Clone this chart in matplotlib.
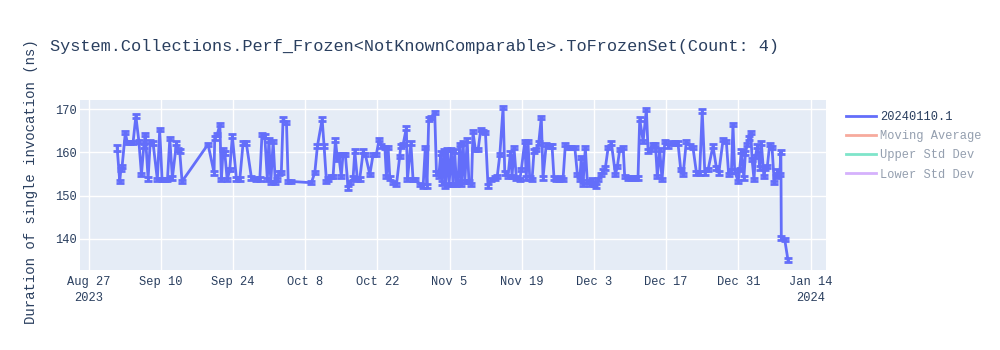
import matplotlib
matplotlib.use("Agg")
import matplotlib.pyplot as plt
from matplotlib.lines import Line2D
import pandas as pd

plt.rcParams['font.family'] = ['Liberation Mono', 'DejaVu Sans Mono']

title = "System.Collections.Perf_Frozen<NotKnownComparable>.ToFrozenSet(Count: 4)"
y_label = "Duration of single invocation (ns)"
series_name = "20240110.1"
hidden_series = ["Moving Average", "Upper Std Dev", "Lower Std Dev"]

run_times = [
    "2023-09-01 13:00", "2023-09-02 01:00", "2023-09-02 06:00", "2023-09-02 12:00",
    "2023-09-03 03:00", "2023-09-03 12:00", "2023-09-04 00:00", "2023-09-04 15:00",
    "2023-09-05 04:00", "2023-09-05 18:00", "2023-09-06 06:00", "2023-09-06 17:00",
    "2023-09-07 00:00", "2023-09-07 13:00", "2023-09-07 23:00", "2023-09-08 12:00",
    "2023-09-09 08:00", "2023-09-09 19:00", "2023-09-10 06:00", "2023-09-10 21:00",
    "2023-09-11 07:00", "2023-09-11 18:00", "2023-09-12 06:00", "2023-09-13 01:00",
    "2023-09-13 09:00", "2023-09-13 16:00", "2023-09-14 03:00", "2023-09-19 04:00",
    "2023-09-20 08:00", "2023-09-20 11:00", "2023-09-20 23:00", "2023-09-21 11:00",
    "2023-09-21 18:00", "2023-09-22 02:00", "2023-09-22 10:00", "2023-09-22 21:00",
    "2023-09-23 09:00", "2023-09-23 21:00", "2023-09-24 16:00", "2023-09-25 08:00",
    "2023-09-25 23:00", "2023-09-26 14:00", "2023-09-27 14:00", "2023-09-28 13:00",
    "2023-09-29 05:00", "2023-09-29 15:00", "2023-09-30 04:00", "2023-09-30 16:00",
    "2023-09-30 23:00", "2023-10-01 08:00", "2023-10-01 19:00", "2023-10-02 05:00",
    "2023-10-02 15:00", "2023-10-02 21:00", "2023-10-03 09:00", "2023-10-03 17:00",
    "2023-10-04 09:00", "2023-10-04 17:00", "2023-10-05 08:00", "2023-10-09 05:00",
    "2023-10-09 21:00", "2023-10-10 09:00", "2023-10-11 07:00", "2023-10-11 16:00",
    "2023-10-12 03:00", "2023-10-12 11:00", "2023-10-12 23:00", "2023-10-13 10:00",
    "2023-10-13 21:00", "2023-10-14 06:00", "2023-10-14 12:00", "2023-10-15 00:00",
    "2023-10-15 08:00", "2023-10-15 19:00", "2023-10-16 08:00", "2023-10-16 16:00",
    "2023-10-17 07:00", "2023-10-17 15:00", "2023-10-18 03:00", "2023-10-18 14:00",
    "2023-10-19 06:00", "2023-10-19 16:00", "2023-10-20 13:00", "2023-10-21 04:00",
    "2023-10-21 19:00", "2023-10-22 08:00", "2023-10-22 19:00", "2023-10-23 11:00",
    "2023-10-23 18:00", "2023-10-24 02:00", "2023-10-24 10:00", "2023-10-25 01:00",
    "2023-10-25 17:00", "2023-10-26 08:00", "2023-10-26 13:00", "2023-10-27 00:00",
    "2023-10-27 15:00", "2023-10-27 20:00", "2023-10-28 12:00", "2023-10-28 22:00",
    "2023-10-29 09:00", "2023-10-30 05:00", "2023-10-30 21:00", "2023-10-31 07:00",
    "2023-10-31 15:00", "2023-10-31 23:00", "2023-11-01 10:00", "2023-11-02 03:00",
    "2023-11-02 11:00", "2023-11-02 22:00", "2023-11-03 07:00", "2023-11-03 13:00",
    "2023-11-03 23:00", "2023-11-04 05:00", "2023-11-04 14:00", "2023-11-04 22:00",
    "2023-11-05 08:00", "2023-11-05 16:00", "2023-11-06 00:00", "2023-11-06 08:00",
    "2023-11-06 16:00", "2023-11-06 23:00", "2023-11-07 07:00", "2023-11-07 15:00",
    "2023-11-07 23:00", "2023-11-08 10:00", "2023-11-08 18:00", "2023-11-09 06:00",
    "2023-11-09 13:00", "2023-11-10 00:00", "2023-11-10 13:00", "2023-11-11 01:00",
    "2023-11-11 12:00", "2023-11-11 23:00", "2023-11-12 11:00", "2023-11-13 03:00",
    "2023-11-13 18:00", "2023-11-14 06:00", "2023-11-14 18:00", "2023-11-15 09:00",
    "2023-11-15 17:00", "2023-11-16 08:00", "2023-11-16 19:00", "2023-11-17 03:00",
    "2023-11-17 12:00", "2023-11-17 23:00", "2023-11-18 15:00", "2023-11-18 22:00",
    "2023-11-19 14:00", "2023-11-19 21:00", "2023-11-20 05:00", "2023-11-20 13:00",
    "2023-11-21 00:00", "2023-11-21 09:00", "2023-11-21 20:00", "2023-11-22 07:00",
    "2023-11-22 19:00", "2023-11-23 03:00", "2023-11-23 18:00", "2023-11-24 10:00",
    "2023-11-24 21:00", "2023-11-25 06:00", "2023-11-25 17:00", "2023-11-26 04:00",
    "2023-11-26 13:00", "2023-11-27 00:00", "2023-11-27 11:00", "2023-11-27 23:00",
    "2023-11-28 15:00", "2023-11-29 07:00", "2023-11-29 19:00", "2023-11-30 06:00",
    "2023-11-30 13:00", "2023-11-30 21:00", "2023-12-01 08:00", "2023-12-01 17:00",
    "2023-12-02 05:00", "2023-12-02 15:00", "2023-12-03 00:00", "2023-12-03 11:00",
    "2023-12-03 19:00", "2023-12-04 08:00", "2023-12-04 18:00", "2023-12-05 05:00",
    "2023-12-05 18:00", "2023-12-06 09:00", "2023-12-07 04:00", "2023-12-07 13:00",
    "2023-12-08 00:00", "2023-12-08 16:00", "2023-12-08 23:00", "2023-12-09 15:00",
    "2023-12-10 06:00", "2023-12-10 22:00", "2023-12-11 13:00", "2023-12-11 21:00",
    "2023-12-12 13:00", "2023-12-13 04:00", "2023-12-13 12:00", "2023-12-14 00:00",
    "2023-12-14 11:00", "2023-12-14 22:00", "2023-12-15 07:00", "2023-12-15 18:00",
    "2023-12-16 05:00", "2023-12-16 18:00", "2023-12-17 09:00", "2023-12-18 00:00",
    "2023-12-18 16:00", "2023-12-19 07:00", "2023-12-19 20:00", "2023-12-20 07:00",
    "2023-12-20 22:00", "2023-12-21 14:00", "2023-12-22 05:00", "2023-12-22 21:00",
    "2023-12-23 12:00", "2023-12-24 00:00", "2023-12-24 12:00", "2023-12-25 03:00",
    "2023-12-26 02:00", "2023-12-26 18:00", "2023-12-27 05:00", "2023-12-28 01:00",
    "2023-12-28 16:00", "2023-12-29 03:00", "2023-12-29 16:00", "2023-12-29 23:00",
    "2023-12-30 07:00", "2023-12-30 23:00", "2023-12-31 06:00", "2023-12-31 14:00",
    "2024-01-01 02:00", "2024-01-01 09:00", "2024-01-01 18:00", "2024-01-02 00:00",
    "2024-01-02 10:00", "2024-01-02 16:00", "2024-01-03 01:00", "2024-01-03 07:00",
    "2024-01-03 17:00", "2024-01-04 04:00", "2024-01-04 11:00", "2024-01-04 23:00",
    "2024-01-05 06:00", "2024-01-05 15:00", "2024-01-06 02:00", "2024-01-06 13:00",
    "2024-01-06 23:00", "2024-01-07 05:00", "2024-01-07 14:00", "2024-01-08 01:00",
    "2024-01-08 06:00", "2024-01-08 08:00", "2024-01-09 00:00", "2024-01-09 15:00",
]

duration_ns = [
    161.0, 153.3, 156.0, 156.8, 164.6, 162.3, 162.3, 162.3,
    168.4, 162.6, 154.9, 161.5, 164.2, 153.9, 162.6, 162.2,
    153.7, 165.3, 153.7, 153.7, 153.7, 163.2, 154.1, 162.2,
    160.7, 160.3, 153.3, 161.9, 155.3, 163.4, 164.2, 166.5,
    153.7, 160.7, 159.9, 153.7, 156.0, 163.8, 153.9, 153.9,
    162.2, 162.2, 154.1, 153.9, 153.9, 164.2, 163.8, 153.7,
    162.9, 153.1, 162.6, 153.0, 153.7, 155.3, 155.4, 167.7,
    166.9, 153.3, 153.3, 153.0, 155.4, 161.5, 167.7, 161.5,
    153.3, 153.9, 154.5, 154.5, 162.9, 158.4, 159.5, 154.5,
    159.5, 159.5, 151.8, 153.0, 154.1, 160.3, 153.7, 153.9,
    160.3, 159.5, 154.9, 159.5, 159.5, 163.0, 161.5, 161.1,
    154.5, 161.1, 154.1, 153.0, 152.6, 159.1, 161.5, 161.9,
    165.7, 153.7, 162.2, 153.7, 153.7, 152.6, 152.2, 161.1,
    152.2, 167.7, 168.1, 169.2, 155.3, 154.5, 159.9, 152.9,
    160.3, 152.2, 160.7, 152.6, 160.7, 152.6, 160.3, 152.6,
    153.3, 161.9, 152.6, 162.2, 153.3, 162.9, 153.3, 152.6,
    164.8, 160.7, 160.7, 165.3, 164.9, 164.6, 152.2, 153.7,
    154.1, 154.5, 159.5, 170.4, 155.3, 154.5, 159.9, 154.5,
    161.1, 154.1, 153.7, 156.0, 162.6, 154.1, 162.6, 154.1,
    153.7, 160.3, 160.7, 162.2, 168.1, 154.1, 161.9, 161.5,
    161.5, 154.1, 153.7, 153.7, 154.1, 153.7, 161.9, 161.1,
    161.1, 161.1, 154.9, 153.7, 158.8, 152.6, 161.1, 153.3,
    152.6, 153.7, 152.6, 152.2, 153.7, 154.9, 155.7, 156.4,
    161.1, 162.2, 154.9, 156.8, 160.7, 161.1, 154.5, 154.1,
    154.1, 154.1, 154.1, 167.7, 162.6, 170.0, 160.3, 160.7,
    161.9, 161.9, 154.5, 160.7, 153.7, 162.6, 161.5, 162.2,
    162.2, 162.2, 156.0, 154.9, 162.6, 161.5, 161.1, 155.3,
    155.3, 169.6, 155.3, 156.0, 161.5, 156.4, 155.3, 163.0,
    162.6, 154.9, 155.7, 166.5, 155.7, 153.3, 156.0, 160.3,
    154.1, 159.9, 161.9, 163.4, 164.6, 158.4, 153.7, 159.1,
    161.5, 156.4, 162.2, 154.5, 156.4, 156.8, 161.9, 161.1,
    153.0, 154.5, 155.7, 154.9, 160.1, 140.2, 139.8, 135.1,
]

error_ns = [
    0.7, 0.4, 0.4, 0.4, 0.4, 0.4, 0.4, 0.4, 0.4, 0.4, 0.4, 0.4, 0.4, 0.4, 0.4, 0.4,
    0.4, 0.4, 0.4, 0.4, 0.4, 0.4, 0.4, 0.4, 0.4, 0.4, 0.4, 0.4, 0.4, 0.4, 0.4, 0.4,
    0.4, 0.4, 0.4, 0.4, 0.4, 0.4, 0.4, 0.4, 0.4, 0.4, 0.4, 0.4, 0.4, 0.4, 0.4, 0.4,
    0.4, 0.4, 0.4, 0.4, 0.4, 0.4, 0.4, 0.4, 0.4, 0.4, 0.4, 0.4, 0.4, 0.4, 0.4, 0.4,
    0.4, 0.4, 0.4, 0.4, 0.4, 0.4, 0.4, 0.4, 0.4, 0.4, 0.4, 0.4, 0.4, 0.4, 0.4, 0.4,
    0.4, 0.4, 0.4, 0.4, 0.4, 0.4, 0.4, 0.4, 0.4, 0.4, 0.4, 0.4, 0.4, 0.4, 0.4, 0.4,
    0.4, 0.4, 0.4, 0.4, 0.4, 0.4, 0.4, 0.4, 0.4, 0.4, 0.4, 0.4, 0.4, 0.4, 0.4, 0.4,
    0.4, 0.4, 0.4, 0.4, 0.4, 0.4, 0.4, 0.4, 0.4, 0.4, 0.4, 0.4, 0.4, 0.4, 0.4, 0.4,
    0.4, 0.4, 0.4, 0.4, 0.4, 0.4, 0.4, 0.4, 0.4, 0.4, 0.4, 0.4, 0.4, 0.4, 0.4, 0.4,
    0.4, 0.4, 0.4, 0.4, 0.4, 0.4, 0.4, 0.4, 0.4, 0.4, 0.4, 0.4, 0.4, 0.4, 0.4, 0.4,
    0.4, 0.4, 0.4, 0.4, 0.4, 0.4, 0.4, 0.4, 0.4, 0.4, 0.4, 0.4, 0.4, 0.4, 0.4, 0.4,
    0.4, 0.4, 0.4, 0.4, 0.4, 0.4, 0.4, 0.4, 0.4, 0.4, 0.4, 0.4, 0.4, 0.4, 0.4, 0.4,
    0.4, 0.4, 0.4, 0.4, 0.4, 0.4, 0.4, 0.4, 0.4, 0.4, 0.4, 0.4, 0.4, 0.4, 0.4, 0.4,
    0.4, 0.4, 0.4, 0.4, 0.4, 0.4, 0.4, 0.4, 0.4, 0.4, 0.4, 0.4, 0.4, 0.4, 0.4, 0.4,
    0.4, 0.4, 0.4, 0.4, 0.4, 0.4, 0.4, 0.4, 0.4, 0.4, 0.4, 0.4, 0.4, 0.4, 0.4, 0.4,
    0.4, 0.4, 0.4, 0.4, 0.4, 0.4, 0.4, 0.4, 0.4, 0.4, 0.4, 0.4, 0.4, 0.4, 0.4, 0.4,
]

tick_dates = ["2023-08-27", "2023-09-10", "2023-09-24", "2023-10-08", "2023-10-22",
              "2023-11-05", "2023-11-19", "2023-12-03", "2023-12-17", "2023-12-31",
              "2024-01-14"]
tick_labels = ["Aug 27\n2023", "Sep 10", "Sep 24", "Oct 8", "Oct 22", "Nov 5",
               "Nov 19", "Dec 3", "Dec 17", "Dec 31", "Jan 14\n2024"]
y_ticks = [140, 150, 160, 170]

LINE = "#636EFA"
FADED = ["#F7AA9D", "#7FE5CA", "#D5B1FC"]
TEXT = "#2a3f5f"
FADED_TEXT = "#949faf"
BG = "#E5ECF6"

x = pd.to_datetime(run_times)

fig = plt.figure(figsize=(10, 3.5), dpi=100)
ax = fig.add_axes([0.08, 1 - 270 / 350, 0.746, 170 / 350])
ax.set_facecolor(BG)

ax.errorbar(x, duration_ns, yerr=error_ns, color=LINE, lw=2, elinewidth=2,
            capsize=2.9, capthick=2, zorder=3)

ax.set_xlim(pd.Timestamp("2023-08-25 08:00"), pd.Timestamp("2024-01-17 00:00"))
ax.set_ylim(132.8, 172.15)
ax.set_xticks(pd.to_datetime(tick_dates))
ax.set_xticklabels(tick_labels)
ax.set_yticks(y_ticks)
ax.grid(True, color="white", lw=1, zorder=0)
ax.set_axisbelow(True)
for s in ax.spines.values():
    s.set_visible(False)
ax.tick_params(length=0, labelsize=8.64, colors=TEXT)
ax.tick_params(axis="x", pad=4)
ax.tick_params(axis="y", pad=2)
for lbl in ax.get_xticklabels():
    lbl.set_linespacing(1.45)

fig.text(0.05, 1 - 46 / 350, title, fontsize=12.2, color=TEXT, va="center", ha="left")
fig.text(0.031, 1 - 182 / 350, y_label, fontsize=10.1, color=TEXT, rotation=90,
         va="center", ha="center")

handles = [Line2D([], [], color=LINE, lw=2)] + [Line2D([], [], color=c, lw=2) for c in FADED]
labels = [series_name] + hidden_series
leg = fig.legend(handles, labels, loc="upper left", bbox_to_anchor=(0.846, 1 - 111 / 350),
                 frameon=False, fontsize=8.64, handlelength=2.5, handletextpad=0.35,
                 labelspacing=0.6, borderpad=0, borderaxespad=0)
for i, t in enumerate(leg.get_texts()):
    t.set_color(TEXT if i == 0 else FADED_TEXT)

fig.savefig("out.png", dpi=100, facecolor="white")
